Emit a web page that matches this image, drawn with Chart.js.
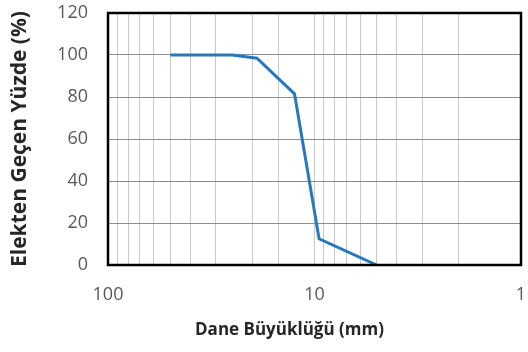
<!DOCTYPE html>
<html>
<head>
  <meta charset="UTF-8">
  <title>Elek Analizi</title>
  <script src="https://cdn.jsdelivr.net/npm/chart.js"></script>
  <style>
    body { margin: 0; background: #fff; }
  </style>
</head>
<body>
  <canvas id="gradChart" width="528" height="352"></canvas>

  <script>
    // dane büyüklüğü (mm) ve elekten geçen yüzde
    const daneBoyutu = [50, 25, 19, 12.5, 9.5, 5];
    const gecenYuzde = [100, 100, 98.5, 81.5, 12.5, 0];
    const xEtiketleri = [100, 10, 1];
    const xBaslik = 'Dane Büyüklüğü (mm)';

    // çerçeve ve x ekseni başlığı
    const cerceve = {
      id: 'cerceve',
      afterDraw(chart) {
        const a = chart.chartArea;
        const ctx = chart.ctx;
        ctx.save();
        ctx.strokeStyle = '#000';
        ctx.lineWidth = 2.5;
        ctx.strokeRect(a.left, a.top, a.right - a.left, a.bottom - a.top);

        ctx.fillStyle = '#262626';
        ctx.font = 'bold 17px "Open Sans"';
        ctx.textAlign = 'center';
        ctx.textBaseline = 'middle';
        ctx.fillText(xBaslik, (a.left + a.right) / 2 - 25, 330);
        ctx.restore();
      }
    };

    const ctx = document.getElementById('gradChart').getContext('2d');
    new Chart(ctx, {
      type: 'line',
      data: {
        datasets: [{
          data: daneBoyutu.map((d, i) => ({ x: d, y: gecenYuzde[i] })),
          borderColor: '#2878bd',
          borderWidth: 3,
          pointRadius: 0,
          tension: 0,
          fill: false
        }]
      },
      plugins: [cerceve],
      options: {
        responsive: false,
        animation: false,
        devicePixelRatio: 1,
        layout: { padding: { left: 0, right: 7, top: 13, bottom: 0 } },
        plugins: {
          legend: { display: false },
          tooltip: { enabled: false }
        },
        scales: {
          x: {
            type: 'logarithmic',
            min: 1,
            max: 100,
            reverse: true,
            afterFit(scale) {
              scale.height = 87;
              scale.paddingLeft = 0;
              scale.paddingRight = 0;
            },
            grid: { color: '#c8c8c8', lineWidth: 1, drawTicks: false },
            border: { display: false },
            ticks: {
              autoSkip: false,
              maxRotation: 0,
              padding: 19,
              color: '#595959',
              font: { family: 'Open Sans', size: 18 },
              callback: (v) => xEtiketleri.includes(v) ? String(v) : ''
            }
          },
          y: {
            min: 0,
            max: 120,
            afterFit(scale) {
              scale.width = 108;
              scale.paddingTop = 0;
              scale.paddingBottom = 0;
            },
            grid: { color: '#8c8c8c', lineWidth: 1, drawTicks: false },
            border: { display: false },
            ticks: {
              stepSize: 20,
              padding: 20,
              color: '#595959',
              font: { family: 'Open Sans', size: 18 }
            },
            title: {
              display: true,
              text: 'Elekten Geçen Yüzde (%)',
              color: '#262626',
              font: { family: 'Open Sans', size: 21, weight: 'bold' },
              padding: { top: 7, bottom: 0 }
            }
          }
        }
      }
    });
  </script>
</body>
</html>
